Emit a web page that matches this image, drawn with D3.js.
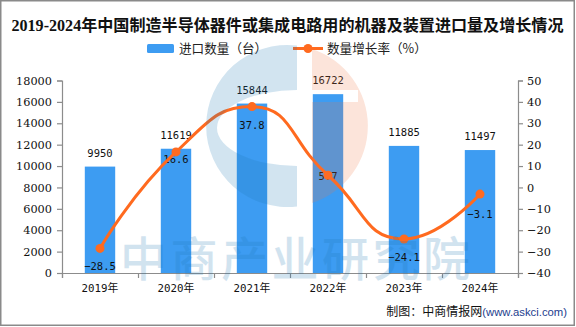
<!DOCTYPE html>
<html><head><meta charset="utf-8">
<script src="https://cdn.jsdelivr.net/npm/d3@7"></script>
<style>html,body{margin:0;padding:0;background:#fff;}svg{display:block;}</style>
</head><body>
<script>
const categories = ["2019年","2020年","2021年","2022年","2023年","2024年"];
const quantity = [9950, 11619, 15844, 16722, 11885, 11497];
const growth = [-28.5, 16.6, 37.8, 5.7, -24.1, -3.1];
const leftTicks = [0,2000,4000,6000,8000,10000,12000,14000,16000,18000];
const rightTicks = [-40,-30,-20,-10,0,10,20,30,40,50];
const titleText = "2019-2024年中国制造半导体器件或集成电路用的机器及装置进口量及增长情况";
const legendNames = ["进口数量（台）","数量增长率（%）"];
const sourceText = "制图：中商情报网";
const sourceUrl = "(www.askci.com)";
const watermarkText = "中商产业研究院";

const W = 576, H = 327;
const BLUE = "#3d9cf2", ORANGE = "#ff6a1f", AXIS = "#8c8c8c";
const numFont = "'DejaVu Sans Mono', monospace";
const tickFont = "'DejaVu Serif', serif";
const cjk = "'Noto Sans CJK SC', sans-serif";

const svg = d3.select("body").append("svg").attr("width", W).attr("height", H);

// border
svg.append("rect").attr("x",0.75).attr("y",0.75).attr("width",573.5).attr("height",324.5)
  .attr("fill","#fff").attr("stroke","#8a8a8a").attr("stroke-width",1.5);

const x = d3.scaleBand().domain(categories).range([62,518]).paddingInner(0.6).paddingOuter(0.3);
const cx = d => x(d) + x.bandwidth()/2;
const yL = d3.scaleLinear().domain([0,18000]).range([273,80.5]);
const yR = d3.scaleLinear().domain([-40,50]).range([273,80.5]);

// title
svg.append("text").attr("x",287.5).attr("y",31).attr("text-anchor","middle")
  .attr("font-family","'Liberation Serif', 'Noto Sans CJK SC', serif").attr("font-weight","bold")
  .attr("font-size",16.2).attr("textLength",552).attr("lengthAdjust","spacingAndGlyphs")
  .attr("fill","#111").text(titleText);

// legend
svg.append("rect").attr("x",147).attr("y",44).attr("width",27).attr("height",9).attr("rx",1.5).attr("fill",BLUE);
svg.append("text").attr("x",179).attr("y",52.5).attr("font-family",cjk).attr("font-size",12.6).attr("fill","#222").text(legendNames[0]);
svg.append("line").attr("x1",293).attr("x2",323).attr("y1",48.5).attr("y2",48.5).attr("stroke",ORANGE).attr("stroke-width",3);
svg.append("circle").attr("cx",308).attr("cy",48.5).attr("r",4.5).attr("fill",ORANGE);
svg.append("text").attr("x",327).attr("y",52.5).attr("font-family",cjk).attr("font-size",12.6).attr("fill","#222").text(legendNames[1]);

// axes
const gL = svg.append("g").attr("transform","translate(62,0)")
  .call(d3.axisLeft(yL).tickValues(leftTicks).tickSize(5).tickPadding(5).tickFormat(d3.format("d")));
const gR = svg.append("g").attr("transform","translate(518,0)")
  .call(d3.axisRight(yR).tickValues(rightTicks).tickSize(5).tickPadding(4).tickFormat(d => d < 0 ? "−" + Math.abs(d) : String(d)));
[gL,gR].forEach(g => {
  g.select(".domain").attr("stroke",AXIS).attr("stroke-width",1.2);
  g.selectAll(".tick line").attr("stroke",AXIS).attr("stroke-width",1.2);
  g.selectAll(".tick text").attr("font-family",tickFont).attr("font-size",11.3).attr("fill","#111");
});
const xb = d3.scaleLinear().domain([0,categories.length]).range([62,518]);
const gX = svg.append("g").attr("transform","translate(0,273)")
  .call(d3.axisBottom(xb).tickValues(d3.range(categories.length+1)).tickSize(5).tickFormat(""));
gX.select(".domain").attr("stroke",AXIS).attr("stroke-width",1.2);
gX.selectAll(".tick line").attr("stroke",AXIS).attr("stroke-width",1.2);

svg.append("g").selectAll("text").data(categories).join("text")
  .attr("x", d => cx(d)).attr("y",292).attr("text-anchor","middle")
  .attr("font-family","'DejaVu Sans Mono', 'Noto Sans CJK SC', monospace").attr("font-size",10.8).attr("fill","#111")
  .text(d => d);

// bars
svg.append("g").selectAll("rect").data(quantity).join("rect")
  .attr("x",(d,i)=>x(categories[i])).attr("width",x.bandwidth())
  .attr("y",d=>yL(d)).attr("height",d=>yL(0)-yL(d)).attr("fill",BLUE);
svg.append("g").selectAll("text").data(quantity).join("text")
  .attr("x",(d,i)=>cx(categories[i])).attr("y",d=>yL(d)-10).attr("text-anchor","middle")
  .attr("font-family",numFont).attr("font-size",10.5).attr("fill","#111").text(d=>d);

// growth labels
const labelDy = [18, 7, 19, 1, 18, 20];
const fmt = v => (v < 0 ? "−" : "") + Math.abs(v).toFixed(1);
svg.append("g").selectAll("text").data(growth).join("text")
  .attr("x",(d,i)=>cx(categories[i])).attr("y",(d,i)=>yR(d)+labelDy[i]).attr("dy","0.36em")
  .attr("text-anchor","middle").attr("font-family",numFont).attr("font-size",10.5).attr("fill","#111")
  .text(fmt);

// echarts-like smooth curve
function smoothPath(pts, smooth){
  const p = d3.path();
  let cpx0, cpy0, prevX, prevY;
  const n = pts.length;
  for (let k=0;k<n;k++){
    const [px,py] = pts[k];
    if (k===0){ p.moveTo(px,py); cpx0=px; cpy0=py; }
    else {
      let cpx1, cpy1, nx0=px, ny0=py;
      if (k+1 >= n){ cpx1=px; cpy1=py; }
      else {
        const [nx,ny] = pts[k+1];
        let vx = nx-prevX, vy = ny-prevY;
        const dx0=px-prevX, dy0=py-prevY, dx1=nx-px, dy1=ny-py;
        const l0 = Math.hypot(dx0,dy0), l1 = Math.hypot(dx1,dy1);
        const r = l1/(l0+l1);
        nx0 = px + vx*smooth*r; ny0 = py + vy*smooth*r;
        nx0 = Math.min(nx0, Math.max(nx,px)); nx0 = Math.max(nx0, Math.min(nx,px));
        ny0 = Math.min(ny0, Math.max(ny,py)); ny0 = Math.max(ny0, Math.min(ny,py));
        vx = nx0-px; vy = ny0-py;
        cpx1 = px - vx*l0/l1; cpy1 = py - vy*l0/l1;
        cpx1 = Math.min(cpx1, Math.max(prevX,px)); cpx1 = Math.max(cpx1, Math.min(prevX,px));
        cpy1 = Math.min(cpy1, Math.max(prevY,py)); cpy1 = Math.max(cpy1, Math.min(prevY,py));
        vx = px-cpx1; vy = py-cpy1;
        nx0 = px + vx*l1/l0; ny0 = py + vy*l1/l0;
      }
      p.bezierCurveTo(cpx0,cpy0,cpx1,cpy1,px,py);
      cpx0 = nx0; cpy0 = ny0;
    }
    prevX = px; prevY = py;
  }
  return p.toString();
}
const linePts = growth.map((v,i)=>[cx(categories[i]), yR(v)]);
svg.append("path").attr("d", smoothPath(linePts, 0.5)).attr("fill","none")
  .attr("stroke",ORANGE).attr("stroke-width",3).attr("stroke-linejoin","round");
svg.append("g").selectAll("circle").data(growth).join("circle")
  .attr("cx",(d,i)=>cx(categories[i])).attr("cy",d=>yR(d)).attr("r",4.5).attr("fill",ORANGE);

// source
const src = svg.append("text").attr("x",567).attr("y",316).attr("text-anchor","end");
src.append("tspan").attr("font-family",cjk).attr("font-size",12).attr("fill","#111").text(sourceText);
src.append("tspan").attr("font-family","'Liberation Sans', sans-serif").attr("font-size",11.3).attr("fill","#23408e").text(sourceUrl);

// watermark (on top, translucent)
const wmTop = svg.append("g").attr("pointer-events","none");
wmTop.append("path").attr("d","M297,45.6 A81,81 0 1,0 297,206.4 L297,166 A80,38 0 0,1 297,90 Z")
  .attr("fill","rgb(30,120,180)").attr("opacity",0.2);
wmTop.append("path").attr("d","M312,49 A81,81 0 0,1 312,203 Z M312,90 H358 V102 H312 Z")
  .attr("fill-rule","evenodd").attr("fill","rgb(240,120,70)").attr("opacity",0.2);
wmTop.append("text").attr("x",295).attr("y",276).attr("text-anchor","middle")
  .attr("font-family",cjk).attr("font-weight",500).attr("font-size",47).attr("textLength",350)
  .attr("fill","rgb(30,120,180)").attr("opacity",0.2).text(watermarkText);
</script>
</body></html>
